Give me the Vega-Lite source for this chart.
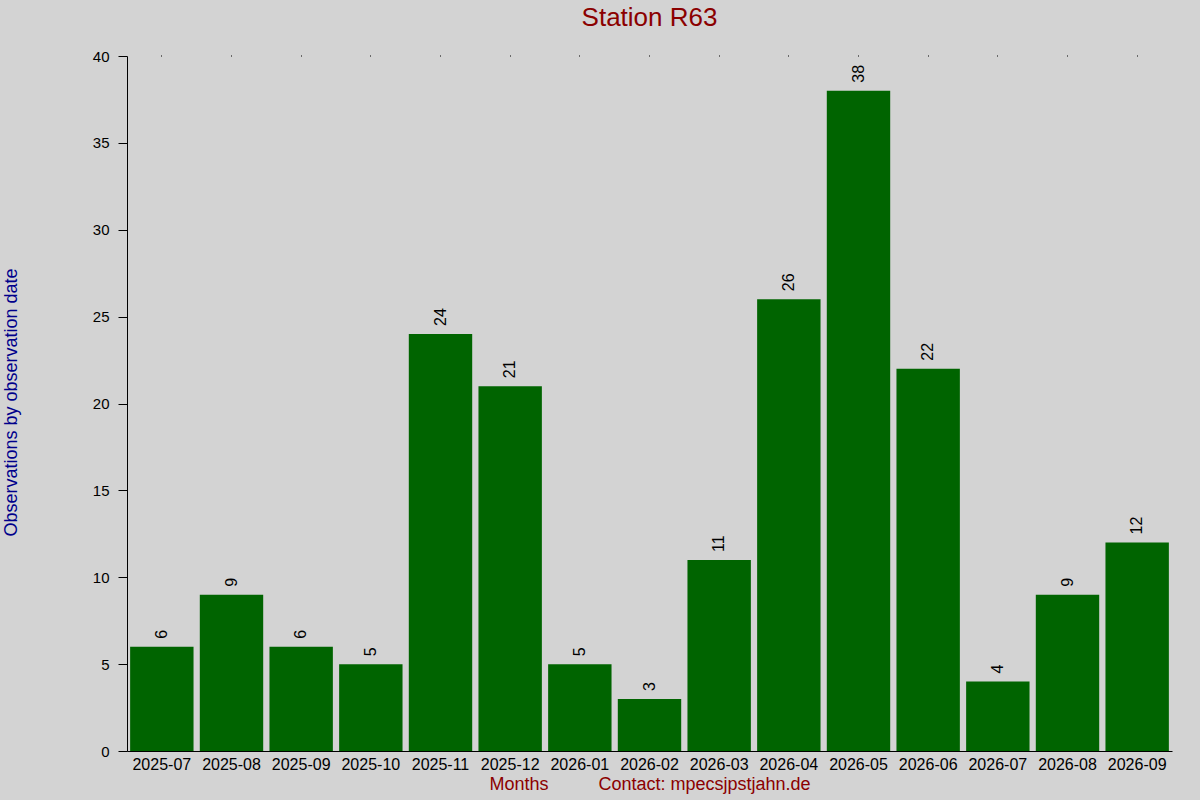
{
  "$schema": "https://vega.github.io/schema/vega-lite/v6.json",
  "autosize": {"type": "none"},
  "width": 1045,
  "height": 695,
  "padding": {"left": 127, "top": 56, "right": 28, "bottom": 49},
  "background": "#d3d3d3",
  "config": {
    "view": {"stroke": null},
    "font": "Liberation Sans"
  },
  "title": {
    "text": "Station R63",
    "color": "#8b0000",
    "fontSize": 26,
    "fontWeight": "normal",
    "font": "Liberation Sans",
    "anchor": "middle",
    "frame": "group",
    "baseline": "alphabetic",
    "offset": -3
  },
  "data": {
    "values": [
      {"month": "2025-07", "count": 6},
      {"month": "2025-08", "count": 9},
      {"month": "2025-09", "count": 6},
      {"month": "2025-10", "count": 5},
      {"month": "2025-11", "count": 24},
      {"month": "2025-12", "count": 21},
      {"month": "2026-01", "count": 5},
      {"month": "2026-02", "count": 3},
      {"month": "2026-03", "count": 11},
      {"month": "2026-04", "count": 26},
      {"month": "2026-05", "count": 38},
      {"month": "2026-06", "count": 22},
      {"month": "2026-07", "count": 4},
      {"month": "2026-08", "count": 9},
      {"month": "2026-09", "count": 12}
    ]
  },
  "resolve": {"axis": {"x": "independent"}},
  "layer": [
    {
      "mark": {"type": "bar", "color": "#006400"},
      "encoding": {
        "x": {
          "field": "month",
          "type": "nominal",
          "sort": null,
          "scale": {"paddingInner": 0.09, "paddingOuter": 0.045},
          "axis": {
            "title": "Months\u00a0\u00a0\u00a0\u00a0\u00a0\u00a0\u00a0\u00a0\u00a0\u00a0Contact: mpecsjpstjahn.de",
            "titleColor": "#8b0000",
            "titleFontSize": 18,
            "titleFontWeight": "normal",
            "titlePadding": 3,
            "labelAngle": 0,
            "labelFontSize": 16,
            "labelColor": "black",
            "labelPadding": 5,
            "ticks": false,
            "domainColor": "black",
            "grid": false
          }
        },
        "y": {
          "field": "count",
          "type": "quantitative",
          "scale": {"domain": [0, 40]},
          "axis": {
            "title": "Observations by observation date",
            "titleColor": "#00008b",
            "titleFontSize": 18,
            "titleFontWeight": "normal",
            "titleAngle": 270,
            "titleAlign": "center",
            "titleBaseline": "middle",
            "titleX": -116,
            "titleY": 346,
            "values": [0, 5, 10, 15, 20, 25, 30, 35, 40],
            "labelFontSize": 15,
            "labelColor": "black",
            "labelPadding": 9,
            "tickSize": 9,
            "tickColor": "black",
            "domainColor": "black",
            "grid": false
          }
        }
      }
    },
    {
      "mark": {
        "type": "text",
        "angle": 270,
        "align": "left",
        "baseline": "middle",
        "dx": 8,
        "fontSize": 16,
        "color": "black"
      },
      "encoding": {
        "x": {
          "field": "month",
          "type": "nominal",
          "sort": null,
          "axis": {
            "orient": "top",
            "title": null,
            "labels": false,
            "domain": false,
            "ticks": true,
            "tickSize": 1,
            "tickColor": "black",
            "grid": false
          }
        },
        "y": {"field": "count", "type": "quantitative"},
        "text": {"field": "count", "type": "quantitative"}
      }
    }
  ]
}
